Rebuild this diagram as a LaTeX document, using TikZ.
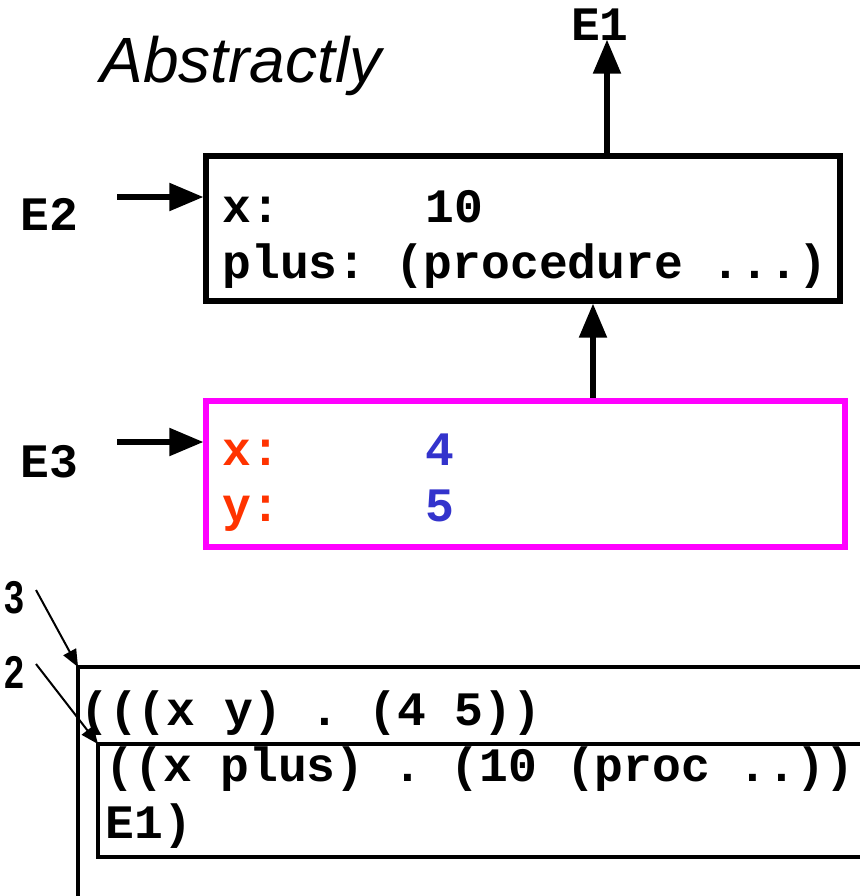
\documentclass[tikz,border=0pt]{standalone}
\usepackage{fontspec}
\setmainfont{Liberation Sans}
\setmonofont{Liberation Mono}
\usetikzlibrary{arrows}
\definecolor{varred}{HTML}{FF3300}
\definecolor{valblue}{HTML}{3333CC}
\definecolor{framemag}{HTML}{FF00FF}
\newcommand{\narrow}[1]{\scalebox{0.78}[1]{#1}}
\tikzset{
  envbox/.style={draw,line width=3.pt,inner sep=0pt},
  code/.style={font=\ttfamily\bfseries\fontsize{24}{24}\selectfont,inner sep=0pt,anchor=base west},
  tag/.style={font=\rmfamily\bfseries\fontsize{23}{23}\selectfont,inner sep=0pt,anchor=base west},
  ptr/.style={->,line width=3.pt},
  thinptr/.style={->,line width=1.pt}
}
\begin{document}
\begin{tikzpicture}[line join=miter,>=triangle 45,x=0.5pt,y=-0.5pt]
\clip (0,0) rectangle (860,896);
\useasboundingbox (0,0) rectangle (860,896);
% title
\node [inner sep=0pt,anchor=base west,font=\itshape\fontsize{32}{32}\selectfont] (title) at (100,82) {Abstractly};
% environment frames
\node [envbox,minimum width=317pt,minimum height=72.5pt] (e2box) at (523,228.5) {};
\node [envbox,draw=framemag,minimum width=319.5pt,minimum height=73pt] (e3box) at (525.5,474) {};
% frame contents
\node [code] (e2x) at (222,222) {x:};
\node [code] (e2xval) at (425,222) {10};
\node [code] (e2plus) at (222,278) {plus: (procedure ...)};
\node [code,text=varred] (e3x) at (222,465) {x:};
\node [code,text=valblue] (e3xval) at (425,465) {4};
\node [code,text=varred] (e3y) at (222,521) {y:};
\node [code,text=valblue] (e3yval) at (425,521) {5};
% environment names
\node [code,anchor=base] (e1) at (600,40) {E1};
\node [code] (e2) at (20,230) {E2};
\node [code] (e3) at (20,477) {E3};
\coordinate (e1tip) at (607,40);
\coordinate (e2from) at (117,197);
\coordinate (e3from) at (117,442);
\draw [ptr] (e2box.north -| e1tip) -- (e1tip);
\draw [ptr] (e2from) -- (e2from -| e2box.west);
\draw [ptr] (e3from) -- (e3from -| e3box.west);
\draw [ptr] (593,0 |- e3box.north) -- (593,0 |- e2box.south);
% list representation
\coordinate (outer) at (78,667);
\coordinate (inner) at (98,744);
\draw [line width=2.pt] (860,667) -- (outer) -- (78,900);
\draw [line width=2.pt] (860,744) -- (inner) -- (98,857) -- (860,857);
\node [code] (l3) at (80,725) {(((x y) . (4 5))};
\node [code] (l2a) at (105,781) {((x plus) . (10 (proc ..))};
\node [code] (l2b) at (105,838) {E1)};
\node [tag] (n3) at (4,613) {\narrow{3}};
\node [tag] (n2) at (4,688) {\narrow{2}};
\draw [thinptr] (36,590) -- (outer);
\draw [thinptr] (36,664) -- (inner);
\end{tikzpicture}
\end{document}
